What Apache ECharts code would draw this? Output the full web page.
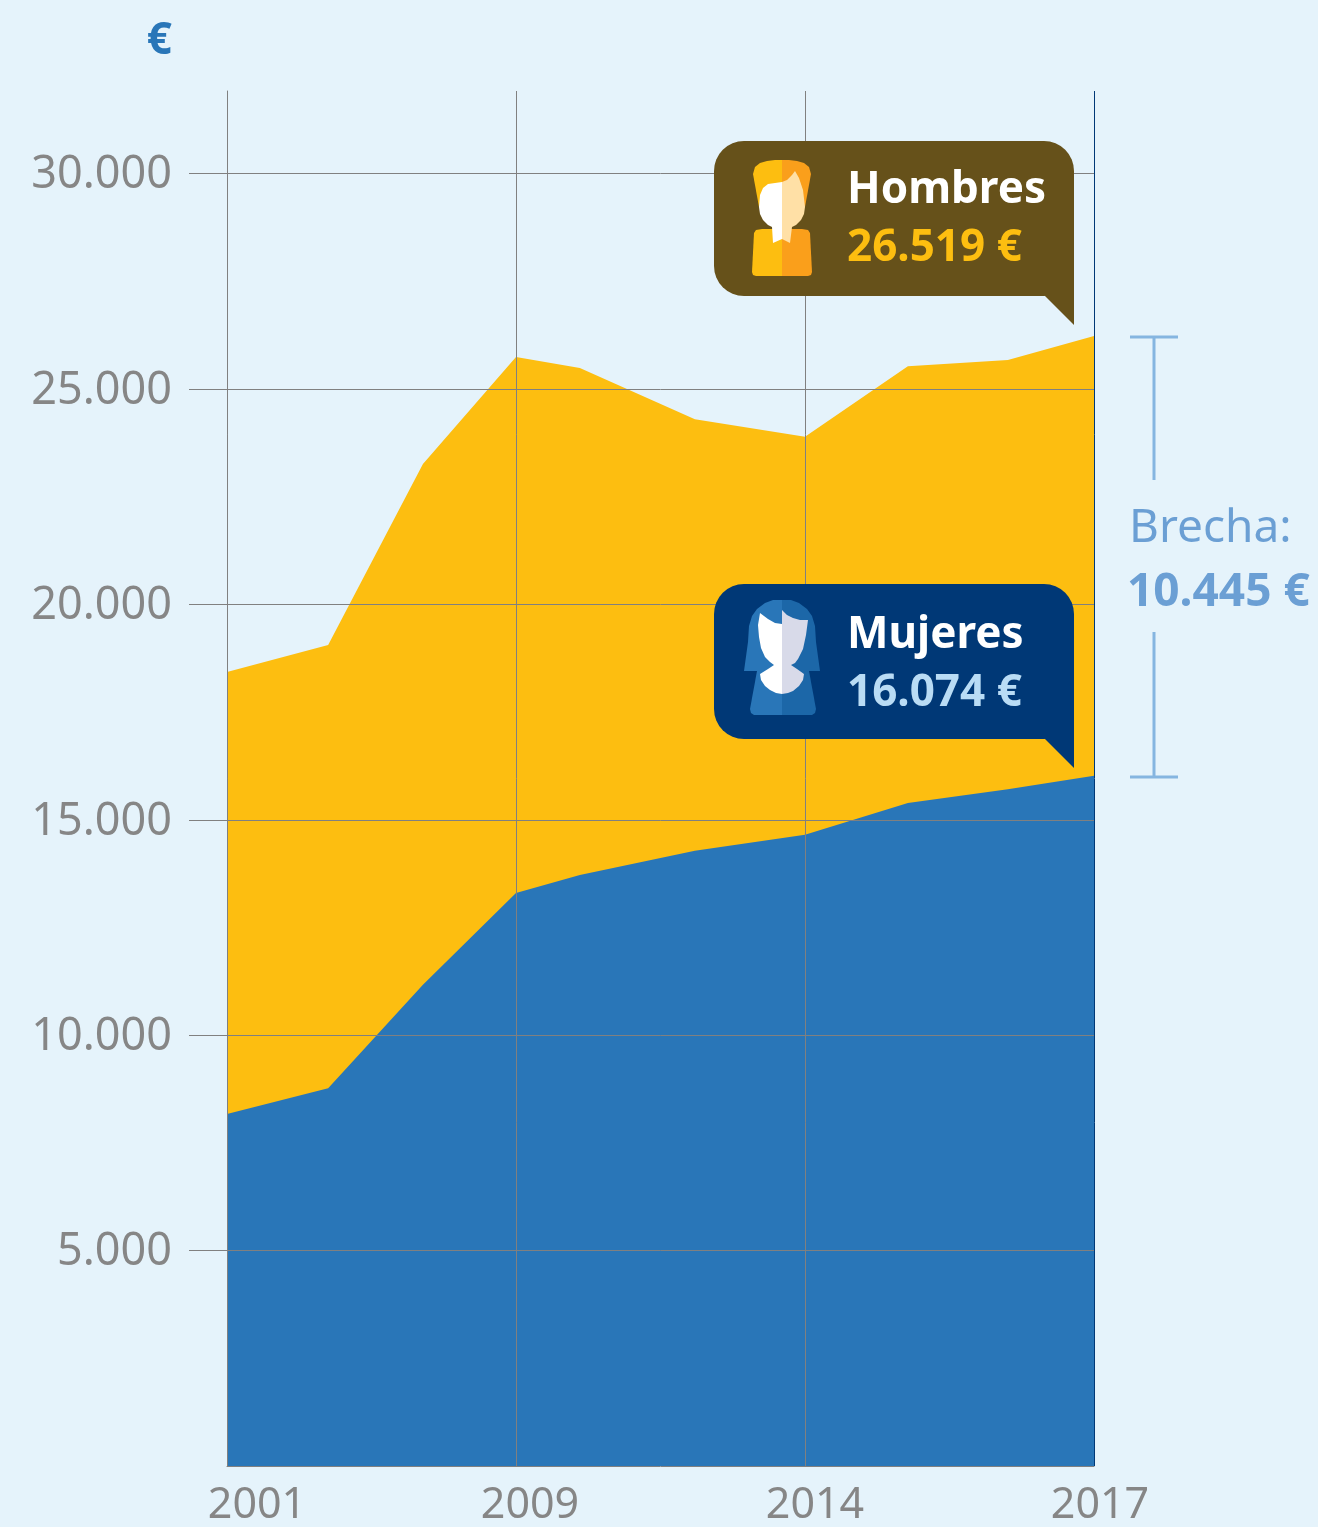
<!DOCTYPE html>
<html>
<head>
<meta charset="utf-8">
<style>
html,body{margin:0;padding:0;background:#e5f3fb;}
#main{width:1318px;height:1527px;}
</style>
<script src="https://cdn.jsdelivr.net/npm/echarts@6/dist/echarts.min.js"></script>
</head>
<body>
<div id="main"></div>
<script>
// eje x irregular: cada tramo entre etiquetas mide lo mismo
var xTickLabels = ['2001', '2009', '2014', '2017'];
var xSteps = [0, 0.35, 0.678, 1, 1.221, 1.619, 2, 2.356, 2.702, 3];
var hombres = [18430, 19060, 23260, 25740, 25490, 24300, 23890, 25530, 25670, 26230];
var mujeres = [8170, 8770, 11170, 13300, 13720, 14280, 14650, 15390, 15710, 16020];
var yTicks = [5000, 10000, 15000, 20000, 25000, 30000];

var font = '"Noto Sans", "Open Sans", sans-serif';
var amarillo = '#fdbe10', naranja = '#fa9f1b', azul = '#2976b8', azulOscuro = '#1c67a8', marino = '#003876', marron = '#66511a';

function pares(v) {
    return v.map(function (y, i) { return [xSteps[i], y]; });
}
function poly(points, fill) {
    return { type: 'polygon', z: 102, shape: { points: points }, style: { fill: fill } };
}
function texto(x, y, t, size, weight, fill) {
    return {
        type: 'text', z: 103, x: x, y: y,
        style: { text: t, fill: fill, font: weight + ' ' + size + 'px ' + font, textAlign: 'left', textVerticalAlign: 'middle' }
    };
}
function globo(top, fill) {
    return [
        { type: 'rect', z: 100, shape: { x: 714, y: top, width: 360, height: 155, r: 30 }, style: { fill: fill } },
        poly([[1045, top + 120], [1074, top + 120], [1074, top + 184], [1045, top + 155]], fill)
    ];
}
function linea(x1, y1, x2, y2) {
    return { type: 'line', z: 100, shape: { x1: x1, y1: y1, x2: x2, y2: y2 }, style: { stroke: '#85b5e0', lineWidth: 3 } };
}

var iconoHombre = [
    poly([[782, 160], [775, 160], [767, 161], [760, 163], [755, 167], [753, 174], [759, 207], [782, 207]], amarillo),
    poly([[782, 160], [789, 160], [797, 161], [804, 163], [809, 167], [811, 174], [805, 207], [782, 207]], naranja),
    poly([[782, 229], [762, 229], [756, 230], [754, 233], [752, 272], [753, 275], [756, 276], [782, 276]], amarillo),
    poly([[782, 229], [802, 229], [808, 230], [810, 233], [812, 272], [811, 275], [808, 276], [782, 276]], naranja),
    poly([[782, 182], [775, 183], [768, 184], [763, 188], [760, 195], [759, 207], [760, 214], [763, 220], [768, 225], [772, 227], [773, 243], [782, 239]], '#ffffff'),
    poly([[782, 182], [787, 180], [792, 175], [795, 171], [799, 178], [803, 190], [805, 207], [804, 214], [801, 220], [796, 225], [792, 227], [790, 243], [782, 239]], '#ffe0a6')
];
var iconoMujer = [
    poly([[782, 600], [773, 600], [765, 603], [757, 609], [752, 616], [749, 626], [748, 642], [744, 671], [782, 671]], azul),
    poly([[782, 600], [791, 600], [799, 603], [807, 609], [812, 616], [815, 626], [816, 642], [820, 671], [782, 671]], azulOscuro),
    poly([[782, 671], [757, 671], [750, 709], [751, 713], [754, 715], [782, 715]], azul),
    poly([[782, 671], [809, 671], [816, 709], [815, 713], [812, 715], [782, 715]], azulOscuro),
    poly([[782, 624], [775, 623], [768, 619], [760, 613], [758, 625], [759, 637], [761, 648], [765, 657], [770, 662], [774, 665], [768, 669], [760, 674], [761, 680], [765, 686], [770, 690], [776, 693], [782, 694]], '#ffffff'),
    poly([[782, 610], [787, 615], [793, 618], [800, 620], [808, 620], [806, 635], [803, 649], [798, 659], [795, 663], [791, 665], [797, 669], [804, 674], [803, 680], [799, 686], [793, 691], [788, 693], [782, 694]], '#d8dae9')
];

var myChart = echarts.init(document.getElementById('main'));

var option = {
    backgroundColor: '#e5f3fb',
    animation: false,
    grid: { left: 227, right: 224, top: 91, bottom: 61, outerBoundsMode: 'none' },
    xAxis: {
        type: 'value', min: 0, max: 3, interval: 1, z: 5,
        axisLine: { show: true, lineStyle: { color: '#808080', width: 1 } },
        axisTick: { show: false },
        splitLine: { show: true, showMinLine: true, showMaxLine: true, lineStyle: { color: ['#808080', '#808080', '#808080', marino], width: 1 } },
        axisLabel: {
            margin: 18,
            formatter: function (v) { return '{l' + v + '|' + xTickLabels[v] + '}'; },
            rich: {
                l0: { fontFamily: font, fontSize: 43, color: '#868686', padding: [0, 0, 0, 60] },
                l1: { fontFamily: font, fontSize: 43, color: '#868686', padding: [0, 0, 0, 28] },
                l2: { fontFamily: font, fontSize: 43, color: '#868686', padding: [0, 0, 0, 20] },
                l3: { fontFamily: font, fontSize: 43, color: '#868686', padding: [0, 0, 0, 12] }
            }
        }
    },
    yAxis: {
        type: 'value', min: 0, max: 31917, z: 5,
        name: '€', nameLocation: 'end', nameGap: 28,
        nameTextStyle: { fontFamily: font, fontSize: 44, fontWeight: 'bold', color: azul, align: 'right', padding: [0, 55, 0, 0] },
        axisLine: { show: true, lineStyle: { color: '#808080', width: 1 } },
        axisTick: { show: true, length: 38, customValues: yTicks, lineStyle: { color: '#808080', width: 1 } },
        splitLine: { show: true, lineStyle: { color: '#808080', width: 1 } },
        axisLabel: {
            customValues: yTicks, margin: 55,
            formatter: function (v) { return '{v|' + String(v).replace(/(\d)(\d{3})$/, '$1.$2') + '}'; },
            rich: {
                v: { fontFamily: font, fontSize: 45, color: '#868686', padding: [4, 0, 0, 0] }
            }
        }
    },
    series: [
        {
            name: 'Hombres', type: 'line', z: 2, data: pares(hombres), showSymbol: false,
            lineStyle: { width: 0 }, areaStyle: { color: amarillo, opacity: 1 }
        },
        {
            name: 'Mujeres', type: 'line', z: 3, data: pares(mujeres), showSymbol: false,
            lineStyle: { width: 0 }, areaStyle: { color: azul, opacity: 1 }
        }
    ],
    graphic: {
        elements: [].concat(
            globo(141, marron), iconoHombre,
            [texto(847, 190, 'Hombres', 44, 'bold', '#ffffff'), texto(847, 248, '26.519 €', 44, 'bold', amarillo)],
            globo(584, marino), iconoMujer,
            [texto(847, 635, 'Mujeres', 44, 'bold', '#ffffff'), texto(847, 693, '16.074 €', 44, 'bold', '#b9dcf5')],
            [
                linea(1130, 337, 1178, 337), linea(1154, 337, 1154, 480),
                linea(1154, 632, 1154, 777), linea(1130, 777, 1178, 777),
                texto(1129, 529, 'Brecha:', 46, 400, '#6b9fd4'),
                texto(1127, 593, '10.445 €', 46, 'bold', '#6b9fd4')
            ]
        )
    }
};

if (option && typeof option === "object") {
    myChart.setOption(option, true);
}
</script>
</body>
</html>
